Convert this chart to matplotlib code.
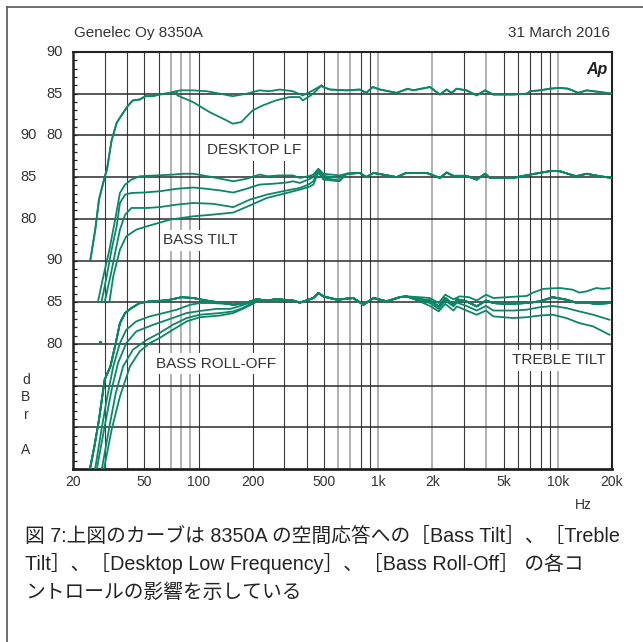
import numpy as np
import matplotlib
matplotlib.use("Agg")
import matplotlib.pyplot as plt
from matplotlib.lines import Line2D

# --------------------------------------------------------------------------------------------------
# DATA (frequency in Hz, level in dB for each group's own scale)

# DESKTOP LF group (top): shared rise, then the flat and the cut curve, then a shared HF part
dlf_rise_f = [25, 26.6, 27.9, 30, 30.9, 32.8, 35, 37.2, 40.6, 43.1, 47, 50.6, 55.2, 60.6, 69.5, 75.6]
dlf_rise_db = [65.1, 68.7, 72.3, 75.0, 75.9, 79.4, 81.5, 82.4, 83.6, 84.2, 84.3, 84.7, 84.7, 84.9, 85.1, 85.3]

dlf_flat_f = [79, 93, 110.5, 131.8, 155, 185, 218, 248, 283, 334, 380, 434, 484]
dlf_flat_db = [85.4, 85.4, 85.3, 85.0, 84.7, 85.0, 85.4, 85.3, 85.5, 85.3, 84.8, 85.4, 86.0]

dlf_cut_f = [76.1, 93, 115, 143, 155, 173, 200, 228, 270, 322, 366, 380, 408, 434, 484]
dlf_cut_db = [84.8, 84.0, 82.8, 81.8, 81.4, 81.6, 83.0, 83.6, 84.2, 84.6, 84.6, 84.2, 84.6, 85.0, 86.0]

top_hf_f = [493, 538, 667, 790, 858, 932, 1022, 1266, 1462, 1560, 1940, 2204, 2402, 2560, 2730,
            3100, 3530, 3930, 4370, 5640, 6700, 7000, 7940, 9020, 10260, 11400, 12980, 14450,
            17140, 20000]
top_hf_db = [85.8, 85.5, 85.4, 85.5, 85.1, 85.8, 85.5, 85.1, 85.6, 85.4, 85.8, 84.9, 85.5, 85.1,
             85.6, 85.4, 84.8, 85.4, 84.9, 84.9, 85.0, 85.3, 85.4, 85.6, 85.7, 85.6, 85.1, 85.4,
             85.2, 85.0]

# BASS TILT group (middle): four curves up to ~600 Hz, then a shared HF part
tilt0_f = [27.5, 29.5, 31.9, 34.6, 36.5, 39, 42.3, 47, 58, 72, 82, 93.5, 106, 126, 156, 185, 218,
           243, 283, 335, 366, 408, 435, 464, 495, 608]
tilt0_db = [70.0, 73.1, 76.3, 80.3, 83.1, 84.1, 84.7, 85.1, 85.2, 85.3, 85.4, 85.4, 85.2, 84.9,
            84.5, 84.8, 85.3, 85.1, 85.2, 85.2, 84.9, 85.1, 85.3, 86.0, 85.4, 85.2]

tilt1_f = [28.8, 30.8, 32.8, 35, 36.5, 39, 42.3, 49.3, 60.6, 75.6, 93.5, 110.5, 131.8, 156, 185,
           218, 258, 310, 335, 366, 408, 435, 464, 495, 608]
tilt1_db = [70.0, 73.1, 76.3, 79.1, 81.9, 82.9, 83.1, 83.15, 83.3, 83.6, 83.75, 83.6, 83.4, 83.15,
            83.6, 84.1, 84.2, 84.35, 84.5, 84.3, 84.7, 85.0, 85.9, 85.15, 84.9]

tilt2_f = [30, 32.3, 34.6, 36.5, 39, 42.3, 51.6, 60.6, 75.6, 93.5, 120, 156, 193, 240, 310, 366,
           408, 435, 464, 495, 608]
tilt2_db = [70.0, 73.1, 76.3, 78.7, 80.5, 81.3, 81.3, 81.4, 81.7, 81.9, 81.8, 81.4, 82.3, 82.9,
            83.4, 83.7, 84.1, 84.5, 85.7, 84.9, 84.6]

tilt3_f = [31.9, 33.5, 36.5, 39.6, 45, 51.6, 69.5, 93.5, 120, 156, 193, 240, 310, 366, 408, 435,
           464, 495, 608]
tilt3_db = [70.0, 73.1, 76.3, 77.9, 78.7, 79.1, 79.9, 80.3, 80.5, 80.75, 81.6, 82.5, 83.1, 83.5,
            83.8, 84.1, 85.55, 84.7, 84.5]

mid_hf_f = [667, 790, 858, 940, 1266, 1430, 1860, 2204, 2402, 2620, 3100, 3530, 3930, 4180,
            5640, 7000, 9200, 10260, 12600, 14450, 17140, 20000]
mid_hf_db = [85.4, 85.5, 85.0, 85.5, 85.0, 85.5, 85.5, 84.9, 85.55, 85.15, 85.15, 84.7, 85.4,
             84.9, 84.9, 85.3, 85.75, 85.7, 85.1, 85.4, 85.1, 84.9]

# BASS ROLL-OFF / TREBLE TILT group (bottom)
roll0_f = [24.9, 26.3, 27.9, 30, 32.3, 34.6, 36.5, 39, 42.3, 47, 53.5, 60.6, 69.5, 80.4, 93.5,
           110.5, 131.8, 156, 185]
roll0_db = [65.1, 67.7, 70.9, 75.7, 77.3, 80.1, 82.5, 83.7, 84.3, 84.9, 85.1, 85.15, 85.3, 85.6,
            85.5, 85.2, 84.95, 84.7, 84.95]

roll1_f = [26.6, 28.8, 30.8, 33.5, 36.5, 39.6, 45, 53.5, 63.8, 75.6, 90, 101.8, 120, 143, 162, 185]
roll1_db = [65.1, 69.7, 73.3, 77.3, 80.1, 81.7, 82.7, 83.3, 83.7, 84.1, 84.7, 84.9, 84.9, 84.8,
            84.7, 84.95]

roll2_f = [27.2, 30, 32.8, 35.6, 39.6, 45, 56, 69.5, 85.8, 101.8, 126, 150, 168, 193]
roll2_db = [65.1, 70.1, 74.5, 77.7, 80.1, 81.5, 82.3, 83.0, 83.7, 83.95, 84.2, 84.2, 84.5, 84.95]

roll3_f = [29, 31.9, 34.6, 38, 43.1, 51.6, 60.6, 72, 85.8, 101.8, 131.8, 156, 176, 201]
roll3_db = [65.1, 70.1, 74.1, 77.3, 79.3, 80.5, 81.3, 82.3, 83.1, 83.5, 83.7, 83.9, 84.3, 84.95]

roll4_f = [29.8, 32.8, 36.5, 41.5, 47, 53.5, 60.6, 72, 85.8, 101.8, 131.8, 156, 176, 205]
roll4_db = [65.1, 69.7, 73.7, 77.3, 79.1, 80.1, 80.7, 81.7, 82.7, 83.2, 83.4, 83.7, 84.2, 84.9]

bot_mid_f = [210, 240, 270, 335, 366, 398, 435, 464, 495, 538, 590, 725, 828, 940, 1114, 1316, 1430]
bot_mid_db = [85.35, 85.2, 85.35, 85.2, 84.95, 85.2, 85.5, 86.1, 85.7, 85.5, 85.3, 85.5, 84.7,
              85.5, 85.1, 85.6, 85.7]

treble_f = [1700, 1940, 2170, 2360, 2620, 2740, 3100, 3530, 3980, 4370, 5200, 6700, 7940, 9350,
            11130, 12600, 14450, 16360, 19350]
treble_flat_db = [85.35, 85.2, 84.5, 85.5, 84.7, 85.35, 85.1, 84.5, 85.2, 84.9, 84.8, 84.9, 85.1,
                  85.6, 85.3, 84.95, 84.95, 84.8, 84.9]

treble_up_f = [1700, 1940, 2170, 2360, 2620, 2840, 3200, 3530, 3980, 4370, 5200, 6700, 7270, 8280,
               10260, 12080, 13140, 14450, 16360, 17800, 19350]
treble_up_db = [85.6, 85.5, 84.9, 85.9, 85.35, 85.7, 85.6, 85.2, 85.9, 85.5, 85.6, 85.75, 86.15,
                86.6, 86.7, 86.5, 86.15, 86.3, 86.7, 86.6, 86.7]

treble_dn_f = [1700, 1940, 2170, 2360, 2620, 2740, 3100, 3530, 3980, 4370, 5640, 6700, 7940, 9350,
               11130, 13140, 15690, 19350]
treble_dn1_db = [85.2, 84.9, 84.2, 85.2, 84.5, 84.95, 84.55, 84.0, 84.55, 84.0, 84.0, 84.1, 84.4,
                 84.55, 84.3, 83.9, 83.5, 82.9]
treble_dn2_db = [85.1, 84.55, 83.9, 84.8, 84.0, 84.5, 84.0, 83.5, 84.0, 83.3, 83.1, 83.2, 83.4,
                 83.5, 83.1, 82.5, 82.1, 81.1]

stray_f = [28.3]
stray_db = [80.2]

# Level offsets so that each group's scale sits in its band of the shared axis
TOP_OFF, MID_OFF, BOT_OFF = 40, 50, 65

x_ticks = [20, 50, 100, 200, 500, 1000, 2000, 5000, 10000, 20000]
x_labels = ["20", "50", "100", "200", "500", "1k", "2k", "5k", "10k", "20k"]
dark_lines = [30, 40, 50, 60, 100, 200, 300, 400, 500, 800, 900, 3000, 5000, 6000, 7000, 8000, 9000]
gray_lines = [70, 80, 90, 600, 700, 1000, 2000, 4000, 10000]

# --------------------------------------------------------------------------------------------------
# PLOT
plt.rcParams['font.family'] = ['Liberation Sans', 'Noto Sans CJK JP', 'DejaVu Sans']
TXT = '#333333'
GREEN = '#0b8667'

W, H = 643, 642
fig = plt.figure(figsize=(W / 100, H / 100), dpi=100)
ax = fig.add_axes([73 / W, 1 - 469 / H, 539 / W, 417 / H])
ax.set_xscale('log')
ax.set_xlim(20, 20000)
ax.set_ylim(0, 50)

# grid
for f in dark_lines:
    ax.axvline(f, color='#3a3a3a', lw=0.8, zorder=1)
for f in gray_lines:
    ax.axvline(f, color='#ababab', lw=1.3, zorder=1)
for p in range(5, 50, 5):
    ax.axhline(p, color='#2a2a2a', lw=1.1, zorder=1)


def curve(parts, off):
    f = np.concatenate([np.asarray(p[0], float) for p in parts])
    db = np.concatenate([np.asarray(p[1], float) for p in parts])
    ax.plot(f, db - off, color=GREEN, lw=1.3, zorder=3, solid_joinstyle='round')


# top group
curve([(dlf_rise_f, dlf_rise_db), (dlf_flat_f, dlf_flat_db), (top_hf_f, top_hf_db)], TOP_OFF)
curve([(dlf_rise_f, dlf_rise_db), (dlf_cut_f, dlf_cut_db), (top_hf_f, top_hf_db)], TOP_OFF)

# middle group
for tf, tdb in [(tilt0_f, tilt0_db), (tilt1_f, tilt1_db), (tilt2_f, tilt2_db), (tilt3_f, tilt3_db)]:
    curve([(tf, tdb), (mid_hf_f, mid_hf_db)], MID_OFF)

# bottom group
for rf, rdb in [(roll1_f, roll1_db), (roll2_f, roll2_db), (roll3_f, roll3_db), (roll4_f, roll4_db)]:
    curve([(rf, rdb), (bot_mid_f, bot_mid_db), (treble_f, treble_flat_db)], BOT_OFF)
for tf, tdb in [(treble_f, treble_flat_db), (treble_up_f, treble_up_db),
                (treble_dn_f, treble_dn1_db), (treble_dn_f, treble_dn2_db)]:
    curve([(roll0_f, roll0_db), (bot_mid_f, bot_mid_db), (tf, tdb)], BOT_OFF)
ax.plot(stray_f, np.array(stray_db) - BOT_OFF, 'o', color=GREEN, ms=1.5, zorder=3)

# group labels
lab = dict(fontsize=11, color=TXT, ha='center', va='center', zorder=2,
           bbox=dict(facecolor='white', edgecolor='none', pad=2.5))
ax.text(204, 38.25, "DESKTOP LF", **lab)
ax.text(103, 27.45, "BASS TILT", **lab)
ax.text(125, 12.6, "BASS ROLL-OFF", **lab)
ax.text(10100, 13.05, "TREBLE TILT", **lab)
ax.text(0.991, 0.958, "Ap", transform=ax.transAxes, ha='right', va='center',
        fontsize=11.5, fontweight='bold', fontstyle='italic', color='#222222')

# axes styling
for s in ax.spines.values():
    s.set_color('#222222')
    s.set_linewidth(1.5)
ax.spines['bottom'].set_linewidth(2.0)
ax.spines['left'].set_linewidth(1.8)
ax.set_xticks(x_ticks)
ax.set_xticklabels(x_labels)
ax.xaxis.set_minor_locator(matplotlib.ticker.NullLocator())
ax.tick_params(axis='x', length=0, pad=4, labelsize=10, labelcolor=TXT)
ax.set_yticks([])
ax.set_yticks(np.arange(0, 51, 1), minor=True)
ax.tick_params(axis='y', which='minor', direction='in', length=3, width=0.9, color='#222222')

ytf = ax.get_yaxis_transform()
for p, s in [(50, "90"), (45, "85"), (40, "80"), (25, "90"), (20, "85"), (15, "80")]:
    ax.text(-0.0186, p, s, transform=ytf, ha='right', va='center', fontsize=10.5, color=TXT)
for p, s in [(40, "90"), (35, "85"), (30, "80")]:
    ax.text(-0.0668, p, s, transform=ytf, ha='right', va='center', fontsize=10.5, color=TXT)
for p, s in [(10.67, "d"), (8.63, "B"), (6.47, "r"), (2.28, "A")]:
    ax.text(-0.0872, p, s, transform=ytf, ha='center', va='center', fontsize=10, color=TXT)

# header, unit and caption
fig.text(74 / W, 1 - 33 / H, "Genelec Oy 8350A", ha='left', va='center', fontsize=11, color=TXT)
fig.text(610 / W, 1 - 33 / H, "31 March 2016", ha='right', va='center', fontsize=11, color=TXT)
fig.text(583 / W, 1 - 505 / H, "Hz", ha='center', va='center', fontsize=10, color=TXT)

caption = ["図 7:上図のカーブは 8350A の空間応答への［Bass Tilt］、［Treble",
           "Tilt］、［Desktop Low Frequency］、［Bass Roll-Off］ の各コ",
           "ントロールの影響を示している"]
for i, line in enumerate(caption):
    fig.text(25 / W, 1 - (536 + 28 * i) / H, line, ha='left', va='center', fontsize=14.2,
             color='#222222')

# outer frame (only top and left edges are visible in the crop)
fig.add_artist(Line2D([7 / W, 7 / W], [0, 1 - 7 / H], color='#555555', lw=1.2))
fig.add_artist(Line2D([7 / W, 1], [1 - 7 / H, 1 - 7 / H], color='#555555', lw=1.2))

fig.savefig("out.png", dpi=100)
